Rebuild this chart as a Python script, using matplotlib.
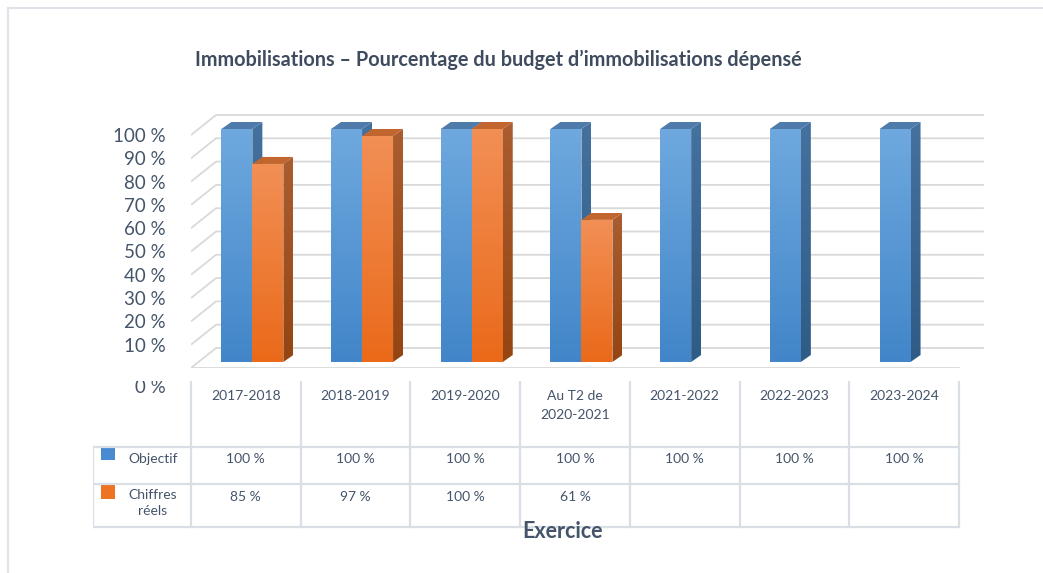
import numpy as np
import matplotlib.pyplot as plt
from matplotlib.colors import LinearSegmentedColormap
from matplotlib.patches import Polygon, Rectangle
from matplotlib.lines import Line2D

# Data
exercices = ['2017-2018', '2018-2019', '2019-2020', 'Au T2 de\n2020-2021',
             '2021-2022', '2022-2023', '2023-2024']
objectif = [100, 100, 100, 100, 100, 100, 100]
reels = [85, 97, 100, 61, None, None, None]
series_names = ['Objectif', 'Chiffres\nréels']
y_ticks = [10, 20, 30, 40, 50, 60, 70, 80, 90, 100]
title = 'Immobilisations \u2013 Pourcentage du budget d\u2019immobilisations dépensé'

plt.rcParams['font.family'] = ['Lato', 'DejaVu Sans']
text_col = '#44546a'
grid_col = '#d9d9d9'
table_col = '#dadfe6'

W, H = 1043, 573
fig = plt.figure(figsize=(W / 100, H / 100), dpi=100)


def fx(px):
    return px / W


def fy(py):
    return 1 - py / H


# geometry in pixels -> data units
ux = 109.7   # px per category
uy = 2.33    # px per percent
x_end = -0.5 + (1000 - 191) / ux
bdx, bdy = 6.5 / ux, 6 / uy      # bar plane offset from front
bw = 31 / ux                     # bar width
ddx, ddy = 10 / ux, 7 / uy       # bar depth
wdx, wdy = 25 / ux, 20 / uy      # back wall offset

ax = fig.add_axes([fx(191), fy(368), (1000 - 191) / W, 268 / H])


def face(verts, c_top, c_bot, z):
    poly = Polygon(verts, closed=True, facecolor='none', edgecolor='none')
    ax.add_patch(poly)
    xs, ys = zip(*verts)
    cmap = LinearSegmentedColormap.from_list('g', [c_bot, c_top])
    grad = np.linspace(0, 1, 64).reshape(-1, 1)
    im = ax.imshow(grad, cmap=cmap, origin='lower', aspect='auto',
                   extent=(min(xs), max(xs), min(ys), max(ys)),
                   interpolation='bilinear', zorder=z)
    im.set_clip_path(poly)


# back wall gridlines + floor front edge
for v in range(0, 101, 10):
    ax.plot([-0.5, -0.5 + wdx, 6.5 + wdx], [v, v + wdy, v + wdy],
            color=grid_col, lw=1.3, zorder=1, solid_capstyle='butt')
ax.plot([-0.5, 6.5], [0, 0], color=grid_col, lw=1.3, zorder=1)

blue = dict(front=('#6ea8de', '#4286c9'), side=('#45719e', '#2f5b87'), top=('#4f7cab', '#4f7cab'))
orange = dict(front=('#f28f55', '#ea6a1a'), side=('#a95d30', '#954512'), top=('#c2662f', '#c2662f'))

z = 2
for i in range(len(exercices)):
    for j, (vals, cols) in enumerate([(objectif, blue), (reels, orange)]):
        v = vals[i]
        if v is None:
            continue
        x0 = i - bw + j * bw + bdx
        x1 = x0 + bw
        y0, y1 = bdy, v + bdy
        face([(x0, y0), (x1, y0), (x1, y1), (x0, y1)], *cols['front'], z)
        face([(x1, y0), (x1 + ddx, y0 + ddy), (x1 + ddx, y1 + ddy), (x1, y1)], *cols['side'], z + 1)
        face([(x0, y1), (x1, y1), (x1 + ddx, y1 + ddy), (x0 + ddx, y1 + ddy)], *cols['top'], z + 2)
        z += 3

ax.set_xlim(-0.5, x_end)
ax.set_ylim(0, 268 / uy)
ax.set_yticks(y_ticks, labels=[f'{v} %' for v in y_ticks])
ax.set_xticks([])
ax.tick_params(axis='y', length=0, pad=18, labelsize=13.5, labelcolor=text_col)
for s in ax.spines.values():
    s.set_visible(False)
ax.patch.set_alpha(0)

# data table
xl = -0.5 - 98 / ux
tab = fig.add_axes([fx(93), fy(530), (1000 - 93) / W, (530 - 381) / H])
tab.set_xlim(xl, x_end)
tab.set_ylim(530, 381)
tab.axis('off')

lw_t = 1.6
for k in range(len(exercices) + 1):
    tab.plot([k - 0.5, k - 0.5], [381, 527], color=table_col, lw=lw_t)
tab.plot([xl, xl], [447, 527], color=table_col, lw=lw_t)
for yy in [447, 484, 527]:
    tab.plot([xl, 6.5], [yy, yy], color=table_col, lw=lw_t, solid_capstyle='projecting')

# "0 %" label partly hidden behind the table header, as in the original
t0 = tab.text(-0.5 - 25 / ux, 387.5, '0 %', ha='right', va='center',
              fontsize=13.5, color=text_col, clip_on=True)
t0.set_clip_box(tab.bbox)

for i, lab in enumerate(exercices):
    tab.text(i, 390, lab, ha='center', va='top', fontsize=10,
             color=text_col, linespacing=1.7)
for row_y, vals in [(459, objectif), (497, reels)]:
    for i, v in enumerate(vals):
        if v is not None:
            tab.text(i, row_y, f'{v} %', ha='center', va='center',
                     fontsize=10, color=text_col)

lab_x = xl + (153 - 93) / ux
tab.text(lab_x, 459, series_names[0], ha='center', va='center', fontsize=10, color=text_col)
tab.text(lab_x, 489, series_names[1], ha='center', va='top', fontsize=10,
         color=text_col, linespacing=1.4)
for row_y, c in [(446, '#4a8ad0'), (485, '#ed7423')]:
    tab.add_patch(Rectangle((xl + 8 / ux, row_y), 14 / ux, 14, facecolor=c, edgecolor='none'))

fig.text(fx(498), fy(60), title, ha='center', va='center', fontsize=14.3,
         fontweight='bold', color='#3f4b5e')
fig.text(fx(563), fy(531), 'Exercice', ha='center', va='center', fontsize=15.5,
         fontweight='bold', color=text_col)

# outer frame
fig.add_artist(Line2D([fx(8), 1], [fy(8), fy(8)], transform=fig.transFigure, color='#dfe3ea', lw=1.5))
fig.add_artist(Line2D([fx(8), fx(8)], [fy(8), 0], transform=fig.transFigure, color='#dfe3ea', lw=1.5))

fig.savefig('out.png', dpi=100)
